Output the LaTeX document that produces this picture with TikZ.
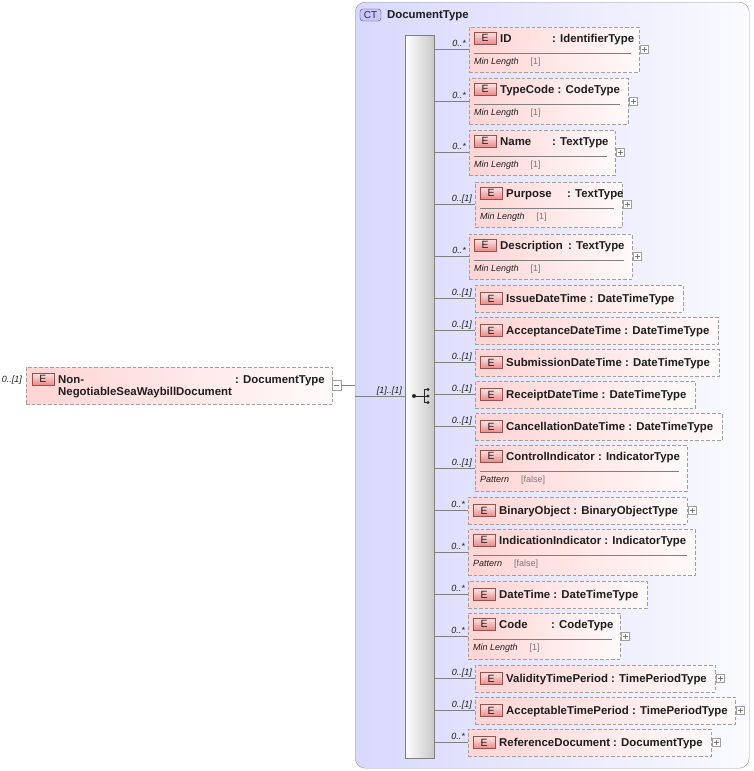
\documentclass[tikz,border=0pt]{standalone}
\usepackage{fontspec}
\setmainfont{Liberation Sans}
\definecolor{ctL}{RGB}{216,216,252}
\definecolor{ctR}{RGB}{250,250,255}
\definecolor{ctborder}{RGB}{150,150,165}
\definecolor{ctbadge}{RGB}{200,200,245}
\definecolor{ctbadgeborder}{RGB}{70,70,130}
\definecolor{cttext}{RGB}{40,40,80}
\definecolor{elpink}{RGB}{255,212,212}
\definecolor{elwhite}{RGB}{255,250,250}
\definecolor{elborder}{RGB}{160,160,160}
\definecolor{badgeT}{RGB}{255,230,230}
\definecolor{badgeB}{RGB}{234,136,136}
\definecolor{badgeborder}{RGB}{150,80,80}
\definecolor{linegray}{RGB}{128,128,128}
\definecolor{valgray}{RGB}{120,120,120}
\definecolor{txt}{RGB}{30,30,30}
\definecolor{barR}{RGB}{200,200,200}
\newcommand\fbold{\fontsize{11.4}{13}\selectfont\bfseries}
\newcommand\fsmall{\fontsize{9}{10}\selectfont}
\tikzset{
  ctbox/.style={draw=ctborder, rounded corners=10pt, left color=ctL, right color=ctR, anchor=north west, inner sep=0pt},
  seqbar/.style={draw=linegray, left color=white, right color=barR, anchor=north west, inner sep=0pt},
  elbox/.style={draw=elborder, dash pattern=on 3.5pt off 2pt, left color=elpink, right color=elwhite, anchor=north west, inner sep=0pt},
  ebadge/.style={draw=badgeborder, top color=badgeT, bottom color=badgeB, minimum width=22pt, minimum height=12pt, inner sep=0pt, font=\fontsize{10.5}{11}\selectfont, text=txt},
  hdr/.style={anchor=base west, inner sep=0pt, font=\fbold, text=txt},
  card/.style={anchor=base east, inner sep=0pt, font=\fsmall\itshape, text=txt},
  faclabel/.style={anchor=base west, inner sep=0pt, font=\fsmall, text=txt},
  sepline/.style={draw=linegray, line width=0.6pt},
  conn/.style={draw=linegray, line width=0.8pt},
  smallbox/.style={draw=elborder, fill=white, inner sep=0pt, line width=0.6pt},
}
\newcommand\elem[9]{%
  \pgfmathsetmacro\eW{#4-#2}%
  \pgfmathsetmacro\eH{#5-#3}%
  \pgfmathsetmacro\hc{\eH<30 ? (#3+#5)/2 : #3+11}%
  \node[elbox, minimum width=\eW pt, minimum height=\eH pt] (#1) at (#2,#3) {};
  \node[ebadge] (#1e) at ({#2+16}, {\hc}) {E};
  \node[hdr] (#1h) at ({#2+31}, {\hc+4}) {#7};
  \node[card] (#1c) at ({#2-3}, {(#3+#5)/2-3}) {#6};
  \draw[conn] (seq.east |- #1.west) -- (#1.west);
  \if\relax\detokenize{#8}\relax\else
    \draw[sepline] ({#2+5}, {#3+26}) -- ({#4-8}, {#3+26});
    \node[faclabel] (#1f) at ({#2+5}, {#3+37}) {\itshape #8\hspace{12pt}\upshape\textcolor{valgray}{#9}};
  \fi
}
\newcommand\plusb[2]{%
  \node[smallbox, minimum width=8pt, minimum height=8pt] (#1p) at (#2, 0 |- #1.west) {};
  \draw[draw=valgray, line width=0.6pt] ([xshift=-2.5pt]#1p.center) -- ([xshift=2.5pt]#1p.center);
  \draw[draw=valgray, line width=0.6pt] ([yshift=-2.5pt]#1p.center) -- ([yshift=2.5pt]#1p.center);
}
\begin{document}
\begin{tikzpicture}[x=1pt,y=-1pt]
\useasboundingbox[fill=white] (0,0) rectangle (753,771);
% container
\node[ctbox, minimum width=394pt, minimum height=766pt] (ct) at (355,2) {};
\node[draw=ctbadgeborder, fill=ctbadge, rounded corners=3pt, minimum width=21pt, minimum height=12pt, inner sep=0pt, font=\fontsize{10}{10}\selectfont, text=cttext] (ctb) at (370.5,15) {CT};
\node[hdr] (ctname) at (387,19) {DocumentType};
% sequence bar
\node[seqbar, minimum width=29pt, minimum height=723pt] (seq) at (405,35) {};
% sequence symbol
\draw[black!85, line width=0.9pt] (414,396) -- (424,396) (424,389.5) -- (424,402.5) (424,389.5) -- (428,389.5) (424,402.5) -- (428,402.5) (424,396) -- (428,396);
\fill[black!85] (414,396) circle (2);
\fill[black!85] (428,389.5) circle (1.7);
\fill[black!85] (428,396) circle (1.7);
\fill[black!85] (428,402.5) circle (1.7);
% root element
\node[elbox, minimum width=306pt, minimum height=37pt] (root) at (26,367) {};
\node[ebadge] (roote) at (43,379) {E};
\node[hdr] (rootn1) at (58,383) {Non-};
\node[hdr] (rootn2) at (58,395) {NegotiableSeaWaybillDocument};
\node[hdr] (roott) at (235,383) {: DocumentType};
\node[card] (rootc) at (22,382) {0..[1]};
\node[smallbox, minimum width=9pt, minimum height=10pt] (rootm) at (336.5,385) {};
\draw[draw=valgray, line width=0.6pt] ([xshift=-2.5pt]rootm.center) -- ([xshift=2.5pt]rootm.center);
\draw[conn] (rootm.east) -- (ct.west |- rootm.east);
\draw[conn] (ct.west |- seq.west) -- (seq.west);
\node[card] (seqc) at (402,393) {[1]..[1]};
% children
\elem{id}{469}{27}{639}{72}{0..*}{\makebox[52pt][l]{ID}: IdentifierType}{Min Length}{[1]}
\plusb{id}{644}
\elem{typecode}{469}{78}{628}{124}{0..*}{TypeCode : CodeType}{Min Length}{[1]}
\plusb{typecode}{633}
\elem{name}{469}{130}{615}{175}{0..*}{\makebox[52pt][l]{Name}: TextType}{Min Length}{[1]}
\plusb{name}{620}
\elem{purpose}{475}{182}{622}{227}{0..[1]}{\makebox[61pt][l]{Purpose}: TextType}{Min Length}{[1]}
\plusb{purpose}{627}
\elem{descr}{469}{234}{632}{279}{0..*}{\makebox[68pt][l]{Description}: TextType}{Min Length}{[1]}
\plusb{descr}{637}
\elem{issue}{475}{285}{683}{312}{0..[1]}{IssueDateTime : DateTimeType}{}{}
\elem{accept}{475}{317}{718}{344}{0..[1]}{AcceptanceDateTime : DateTimeType}{}{}
\elem{submit}{475}{349}{719}{376}{0..[1]}{SubmissionDateTime : DateTimeType}{}{}
\elem{receipt}{475}{381}{695}{408}{0..[1]}{ReceiptDateTime : DateTimeType}{}{}
\elem{cancel}{475}{413}{722}{440}{0..[1]}{CancellationDateTime : DateTimeType}{}{}
\elem{control}{475}{445}{687}{491}{0..[1]}{ControlIndicator : IndicatorType}{Pattern}{[false]}
\elem{binary}{468}{497}{687}{524}{0..*}{BinaryObject : BinaryObjectType}{}{}
\plusb{binary}{692}
\elem{indic}{468}{529}{695}{575}{0..*}{IndicationIndicator : IndicatorType}{Pattern}{[false]}
\elem{datetime}{468}{581}{647}{608}{0..*}{DateTime : DateTimeType}{}{}
\elem{code}{468}{613}{620}{659}{0..*}{\makebox[52pt][l]{Code}: CodeType}{Min Length}{[1]}
\plusb{code}{625}
\elem{validity}{475}{665}{715}{692}{0..[1]}{ValidityTimePeriod : TimePeriodType}{}{}
\plusb{validity}{720}
\elem{acceptable}{475}{697}{735}{724}{0..[1]}{AcceptableTimePeriod : TimePeriodType}{}{}
\plusb{acceptable}{740}
\elem{refdoc}{468}{729}{711}{756}{0..*}{ReferenceDocument : DocumentType}{}{}
\plusb{refdoc}{716}
\end{tikzpicture}
\end{document}
